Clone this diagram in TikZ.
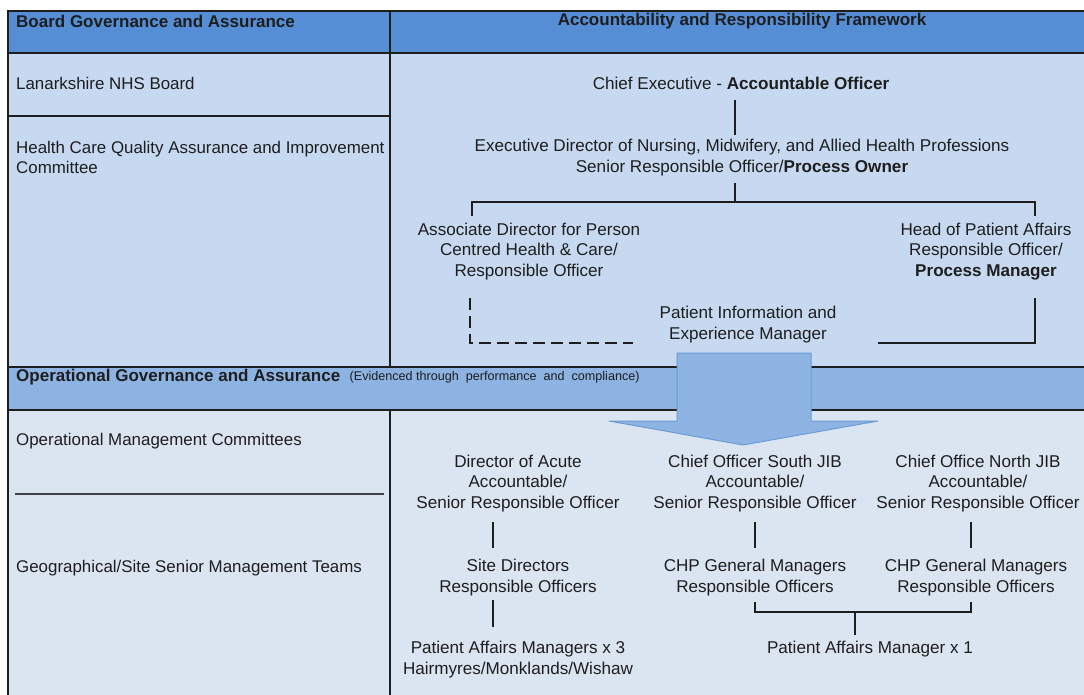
\documentclass[tikz,border=0pt]{standalone}
\usepackage{fontspec}
\setmainfont{Liberation Sans}
\usetikzlibrary{calc}
\definecolor{hdr}{HTML}{558ED5}
\definecolor{upperfill}{HTML}{C6D9F1}
\definecolor{bandfill}{HTML}{8DB3E2}
\definecolor{lowerfill}{HTML}{DBE5F1}
\definecolor{arrowfill}{HTML}{8EB4E3}
\definecolor{arrowedge}{HTML}{6A9BD6}
\definecolor{ink}{HTML}{1E1E1E}
\begin{document}
\begin{tikzpicture}[x=1pt,y=-1pt,
  txt/.style={font=\fontsize{17.1}{20.8}\selectfont, text=ink, align=center, inner sep=0pt, yshift=-1.5pt},
  ltxt/.style={font=\fontsize{16.9}{20.5}\selectfont, text=ink, align=left, anchor=west, inner sep=0pt, yshift=-1.5pt},
  hdrtxt/.style={font=\fontsize{17}{20.5}\selectfont\bfseries, text=ink, inner sep=0pt},
  conn/.style={draw=ink, line width=1.5pt},
  gridline/.style={draw=ink, line width=1.6pt}]
\useasboundingbox (0,0) rectangle (1084,695);
% background bands
\fill[hdr] (8,11) rectangle (1090,53);
\fill[upperfill] (8,53) rectangle (1090,367);
\fill[bandfill] (8,367) rectangle (1090,410);
\fill[lowerfill] (8,410) rectangle (1090,700);
% grid
\draw[gridline] (1090,11) -- (8,11) -- (8,700);
\draw[gridline] (8,53) -- (1090,53);
\draw[gridline] (8,367) -- (1090,367);
\draw[gridline] (8,410) -- (1090,410);
\draw[gridline] (390,11) -- (390,367);
\draw[gridline] (390,410) -- (390,700);
\draw[gridline] (8,116) -- (390,116);
\draw[draw=ink!85, line width=1.8pt] (15,494) -- (384,494);
% left column texts
\node[hdrtxt, anchor=west] (bga) at (16,21) {Board Governance and Assurance};
\node[ltxt] (lnb) at (16,82) {Lanarkshire NHS Board};
\node[ltxt] (hcq) at (16,156) {Health Care Quality Assurance and Improvement\\Committee};
\node[hdrtxt, anchor=west] (oga) at (16,377) {Operational Governance and Assurance};
\node[font=\fontsize{12.6}{14}\selectfont, text=ink, inner sep=0pt, anchor=west] (evd) at ([xshift=9pt]oga.east) {(Evidenced through\ \ performance\ \ and\ \ compliance)};
\node[ltxt] (omc) at (16,440) {Operational Management Committees};
\node[ltxt] (gss) at (16,567) {Geographical/Site Senior Management Teams};
% right header
\node[hdrtxt] (arf) at (742,21) {Accountability and Responsibility Framework};
% upper org chart
\node[txt] (ce) at (741,82) {Chief Executive - \textbf{Accountable Officer}};
\node[txt] (ed) at (742,156) {Executive Director of Nursing, Midwifery, and Allied Health Professions\\Senior Responsible Officer/\textbf{Process Owner}};
\node[txt] (ad) at (529,250) {Associate Director for Person\\Centred Health \& Care/\\Responsible Officer};
\node[txt] (hp) at (986,250) {Head of Patient Affairs\\Responsible Officer/\\\textbf{Process Manager}};
\node[txt] (pi) at (748,323) {Patient Information and\\Experience Manager};
% upper connectors
\coordinate (ceb) at (735,100);
\coordinate (edt) at (735,135);
\coordinate (edb) at (735,183);
\coordinate (brk) at (735,202);
\coordinate (adt) at (472,216);
\coordinate (hpt) at (1035,216);
\draw[conn] (ceb) -- (edt);
\draw[conn] (edb) -- (brk);
\draw[conn] (adt) |- (brk) -| (hpt);
\coordinate (adb) at (470,298);
\coordinate (pil) at (633,343);
\coordinate (hpb) at (1035,298);
\coordinate (pir) at (878,343);
\draw[conn, dash pattern=on 12pt off 6pt] (adb) |- (pil);
\draw[conn] (hpb) |- (pir);
% arrow
\draw[draw=arrowedge, fill=arrowfill, line width=1pt, line join=round]
  (677,353) -- (811,353) -- (811,421) -- (878,421) -- (743,445) -- (609,421) -- (677,421) -- cycle;
% lower org chart
\node[txt] (da) at (518,482) {Director of Acute\\Accountable/\\Senior Responsible Officer};
\node[txt] (cs) at (755,482) {Chief Officer South JIB\\Accountable/\\Senior Responsible Officer};
\node[txt] (cn) at (978,482) {Chief Office North JIB\\Accountable/\\Senior Responsible Officer};
\node[txt] (sd) at (518,576) {Site Directors\\Responsible Officers};
\node[txt] (g1) at (755,576) {CHP General Managers\\Responsible Officers};
\node[txt] (g2) at (976,576) {CHP General Managers\\Responsible Officers};
\node[txt] (pa3) at (518,658) {Patient Affairs Managers x 3\\Hairmyres/Monklands/Wishaw};
\node[txt] (pa1) at (870,648) {Patient Affairs Manager x 1};
% lower connectors
\coordinate (dab) at (493,522);
\coordinate (sdt) at (493,548);
\coordinate (csb) at (755,522);
\coordinate (g1t) at (755,548);
\coordinate (cnb) at (971,522);
\coordinate (g2t) at (971,548);
\coordinate (sdb) at (493,600);
\coordinate (pa3t) at (493,627);
\coordinate (g1b) at (755,602);
\coordinate (g2b) at (971,602);
\coordinate (jn) at (855,612);
\coordinate (pa1t) at (855,635);
\draw[conn] (dab) -- (sdt);
\draw[conn] (csb) -- (g1t);
\draw[conn] (cnb) -- (g2t);
\draw[conn] (sdb) -- (pa3t);
\draw[conn] (g1b) |- (jn) -| (g2b);
\draw[conn] (jn) -- (pa1t);
\end{tikzpicture}
\end{document}
